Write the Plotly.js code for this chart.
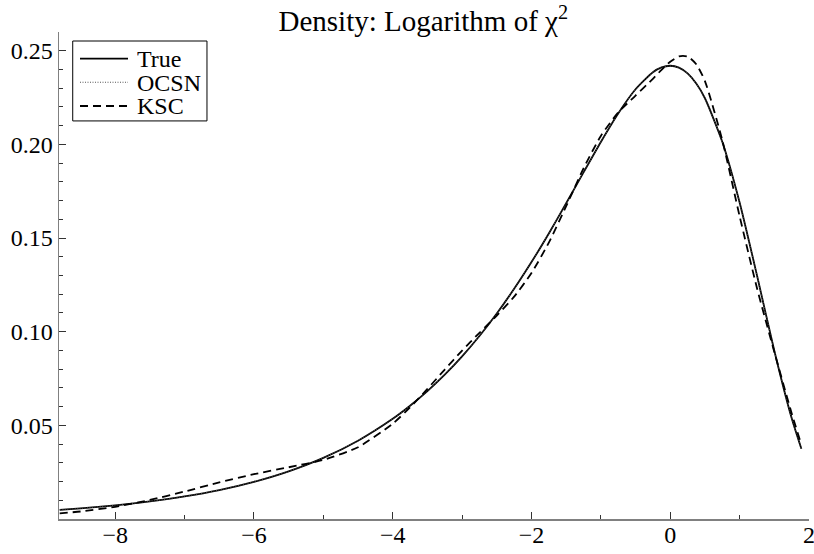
<!DOCTYPE html>
<html>
<head>
<meta charset="utf-8">
<script src="https://cdn.plot.ly/plotly-3.0.1.min.js"></script>
<style>html,body{margin:0;padding:0;background:#fff;}#chart{width:814px;height:554px;}</style>
</head>
<body>
<div id="chart"></div>
<script>
var xValues = [-8.8,-8.5,-8,-7.5,-7,-6.5,-6,-5.5,-5,-4.5,-4,-3.75,-3.5,-3.25,-3,-2.75,-2.5,-2.25,-2,-1.75,-1.5,-1.25,-1,-0.75,-0.5,-0.25,-0.125,0,0.125,0.25,0.375,0.5,0.75,1,1.25,1.5,1.75,1.89];
var trueDensity = [0.004898,0.005690,0.007306,0.009380,0.012041,0.015457,0.019837,0.025452,0.032637,0.041815,0.053499,0.060464,0.068287,0.077049,0.086828,0.097697,0.109703,0.122871,0.137161,0.152466,0.168554,0.185039,0.201317,0.216506,0.229414,0.238517,0.241067,0.241971,0.240993,0.237893,0.232485,0.224633,0.201401,0.168961,0.130126,0.089861,0.053880,0.037491];
var ocsnDensity = [0.004897,0.005690,0.007306,0.009381,0.012040,0.015456,0.019838,0.025451,0.032636,0.041816,0.053498,0.060465,0.068286,0.077050,0.086827,0.097698,0.109702,0.122872,0.137160,0.152467,0.168553,0.185040,0.201316,0.216507,0.229413,0.238518,0.241066,0.241970,0.240994,0.237894,0.232484,0.224632,0.201402,0.168960,0.130127,0.089860,0.053881,0.037490];
var kscDensity = [0.002991,0.004009,0.006532,0.010160,0.014679,0.019511,0.023922,0.027617,0.031559,0.038332,0.050875,0.059577,0.069449,0.079795,0.089906,0.099403,0.108612,0.118703,0.131299,0.147557,0.167013,0.187174,0.204513,0.217036,0.226081,0.235016,0.239798,0.244143,0.246966,0.246937,0.242802,0.233814,0.202279,0.161647,0.123340,0.089203,0.056455,0.039707];
var seriesNames = ["True", "OCSN", "KSC"];
var xTickVals = [-8, -6, -4, -2, 0, 2];
var yTickVals = [0.05, 0.10, 0.15, 0.20, 0.25];
var yTickText = ["0.05", "0.10", "0.15", "0.20", "0.25"];

var serif = "Liberation Serif, Times New Roman, serif";

var styles = [
  {color: "#000", width: 1.8, dash: "solid"},
  {color: "#555", width: 1, dash: "1px,1.5px"},
  {color: "#000", width: 1.8, dash: "8px,5px"}
];
var seriesY = [trueDensity, ocsnDensity, kscDensity];

var traces = seriesY.map(function (ys, i) {
  return {x: xValues, y: ys, name: seriesNames[i], mode: "lines", showlegend: false,
          line: {color: styles[i].color, width: styles[i].width, dash: styles[i].dash,
                 shape: "spline", smoothing: 0.6}};
});

// Custom legend (box, samples, labels) in plot-area fractions
var legendBox = {x0: 0.0183, x1: 0.1973, y0: 0.8174, y1: 0.9815};
var legendRows = [0.9454, 0.8968, 0.8481];
var shapes = [{type: "rect", xref: "paper", yref: "paper", x0: legendBox.x0, x1: legendBox.x1,
               y0: legendBox.y0, y1: legendBox.y1, line: {color: "#000", width: 1}, fillcolor: "#fff", layer: "above"}];
var annotations = [];
legendRows.forEach(function (ry, i) {
  shapes.push({type: "line", xref: "paper", yref: "paper", x0: 0.028, x1: 0.092, y0: ry, y1: ry,
               line: {color: styles[i].color, width: styles[i].width, dash: styles[i].dash}, layer: "above"});
  annotations.push({xref: "paper", yref: "paper", x: 0.1027, y: ry, xanchor: "left", yanchor: "middle",
                    text: seriesNames[i], showarrow: false, height: 23, borderpad: 0,
                    font: {family: serif, size: 24, color: "#000"}});
});

var axisCommon = {
  showgrid: false, zeroline: false, showline: true, linecolor: "#808080", linewidth: 1.5,
  ticks: "inside", ticklen: 7, tickwidth: 1, tickcolor: "#333",
  tickfont: {family: serif, size: 24, color: "#000"}, ticklabeloverflow: "allow"
};

var layout = {
  width: 814, height: 554,
  paper_bgcolor: "#fff", plot_bgcolor: "#fff",
  margin: {l: 59, r: 5, t: 32, b: 35},
  title: {text: "Density: Logarithm of χ<sup>2</sup>", font: {family: serif, size: 29, color: "#000"},
          x: 0.52, xref: "container", xanchor: "center", y: 0.962, yref: "container", yanchor: "middle"},
  xaxis: Object.assign({}, axisCommon, {range: [-8.81, 2.0], tickvals: xTickVals, ticklabelstandoff: -6,
    minor: {dtick: 1, ticks: "inside", ticklen: 4, tickcolor: "#333", showgrid: false}}),
  yaxis: Object.assign({}, axisCommon, {range: [0, 0.26], tickvals: yTickVals, ticktext: yTickText,
    minor: {dtick: 0.01, ticks: "inside", ticklen: 4, tickcolor: "#333", showgrid: false}}),
  showlegend: false,
  shapes: shapes,
  annotations: annotations
};

Plotly.newPlot("chart", traces, layout, {displayModeBar: false, staticPlot: true});
</script>
</body>
</html>
